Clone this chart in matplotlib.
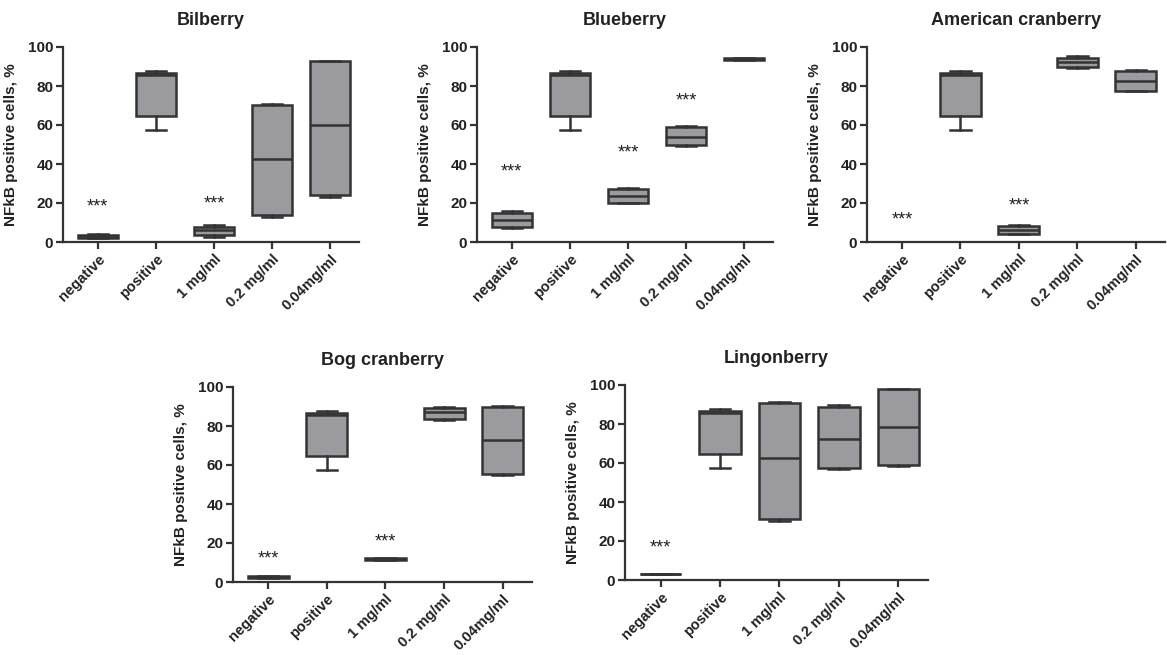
import matplotlib
matplotlib.use("Agg")
import matplotlib.pyplot as plt

plt.rcParams['font.family'] = ['Liberation Sans', 'DejaVu Sans']

categories = ["negative", "positive", "1 mg/ml", "0.2 mg/ml", "0.04mg/ml"]

# shared positive control
pos = [57.5, 64.5, 85.5, 86.5, 87.5]

# each: (min, q1, median, q3, max) per category
bilberry = [[2.0, 2.2, 3.0, 3.8, 4.0], pos, [2.7, 3.4, 6.2, 7.9, 8.5],
            [13.0, 14.0, 42.4, 70.1, 70.8], [23.2, 24.3, 60.0, 92.6, 92.6]]
blueberry = [[7.2, 7.5, 11.3, 14.9, 15.7], pos, [20.0, 20.2, 23.8, 27.4, 27.5],
             [49.2, 49.6, 54.0, 59.1, 59.7], [93.2, 93.3, 93.8, 94.3, 94.4]]
american = [[0.0, 0.0, 0.0, 0.0, 0.0], pos, [3.9, 4.3, 6.3, 8.0, 8.5],
            [89.4, 89.7, 92.5, 94.4, 95.2], [77.3, 77.6, 82.4, 87.5, 88.0]]
bog = [[1.9, 2.0, 2.5, 3.1, 3.3], pos, [11.1, 11.2, 11.7, 12.2, 12.4],
       [83.1, 83.6, 87.4, 89.2, 89.7], [55.0, 55.4, 72.6, 90.0, 90.4]]
lingon = [[2.9, 2.9, 2.9, 2.9, 2.9], pos, [30.5, 31.5, 62.7, 90.6, 91.1],
          [56.9, 57.4, 72.4, 88.6, 89.9], [58.4, 58.8, 78.7, 97.8, 98.0]]

# significance markers: (category index, y)
sig_bilberry = [(0, 18.0), (2, 19.5)]
sig_blueberry = [(0, 36.0), (2, 45.5), (3, 72.5)]
sig_american = [(0, 11.3), (2, 18.5)]
sig_bog = [(0, 11.8), (2, 20.5)]
sig_lingon = [(0, 16.3)]

panels = [
    ("Bilberry", bilberry, sig_bilberry, (63, 242, 296)),
    ("Blueberry", blueberry, sig_blueberry, (477, 242, 296)),
    ("American cranberry", american, sig_american, (867, 242, 298)),
    ("Bog cranberry", bog, sig_bog, (233, 582, 299)),
    ("Lingonberry", lingon, sig_lingon, (625, 580, 303)),
]

W, H = 1167, 655
fig = plt.figure(figsize=(W / 100, H / 100), dpi=100)

edge = "#333333"
fill = "#9b9b9f"

for title, data, sigs, (lx, by, w) in panels:
    ax = fig.add_axes([lx / W, (H - by) / H, w / W, 195 / H])
    stats = []
    for lab, (mn, q1, md, q3, mx) in zip(categories, data):
        stats.append(dict(label=lab, whislo=mn, q1=q1, med=md, q3=q3, whishi=mx, fliers=[]))
    ax.bxp(stats, positions=range(len(categories)), widths=0.7, patch_artist=True,
           showfliers=False, capwidths=0.35,
           boxprops=dict(facecolor=fill, edgecolor=edge, linewidth=1.8),
           medianprops=dict(color=edge, linewidth=1.8),
           whiskerprops=dict(color=edge, linewidth=1.8),
           capprops=dict(color=edge, linewidth=1.8))
    for i, y in sigs:
        ax.text(i, y, "***", ha="center", va="center", fontsize=13, color="#222222")
    ax.set_xlim(-0.6, 4.5)
    ax.set_ylim(0, 100)
    ax.set_yticks([0, 20, 40, 60, 80, 100])
    ax.set_xticks(range(len(categories)))
    ax.set_xticklabels(categories, rotation=45, ha="right", rotation_mode="anchor",
                       fontsize=10.5, fontweight="bold", color="#222222")
    for t in ax.get_yticklabels():
        t.set_fontsize(11)
        t.set_fontweight("bold")
        t.set_color("#222222")
    ax.set_ylabel("NFkB positive cells, %", fontsize=11, fontweight="bold", color="#222222",
                  labelpad=7)
    ax.set_title(title, fontsize=13, fontweight="bold", color="#222222", pad=16)
    for s in ("top", "right"):
        ax.spines[s].set_visible(False)
    for s in ("left", "bottom"):
        ax.spines[s].set_linewidth(1.6)
        ax.spines[s].set_color(edge)
    ax.tick_params(axis="both", length=5, width=1.6, color=edge, pad=2)
    ax.patch.set_visible(False)

fig.savefig("out.png", dpi=100, facecolor="white")
